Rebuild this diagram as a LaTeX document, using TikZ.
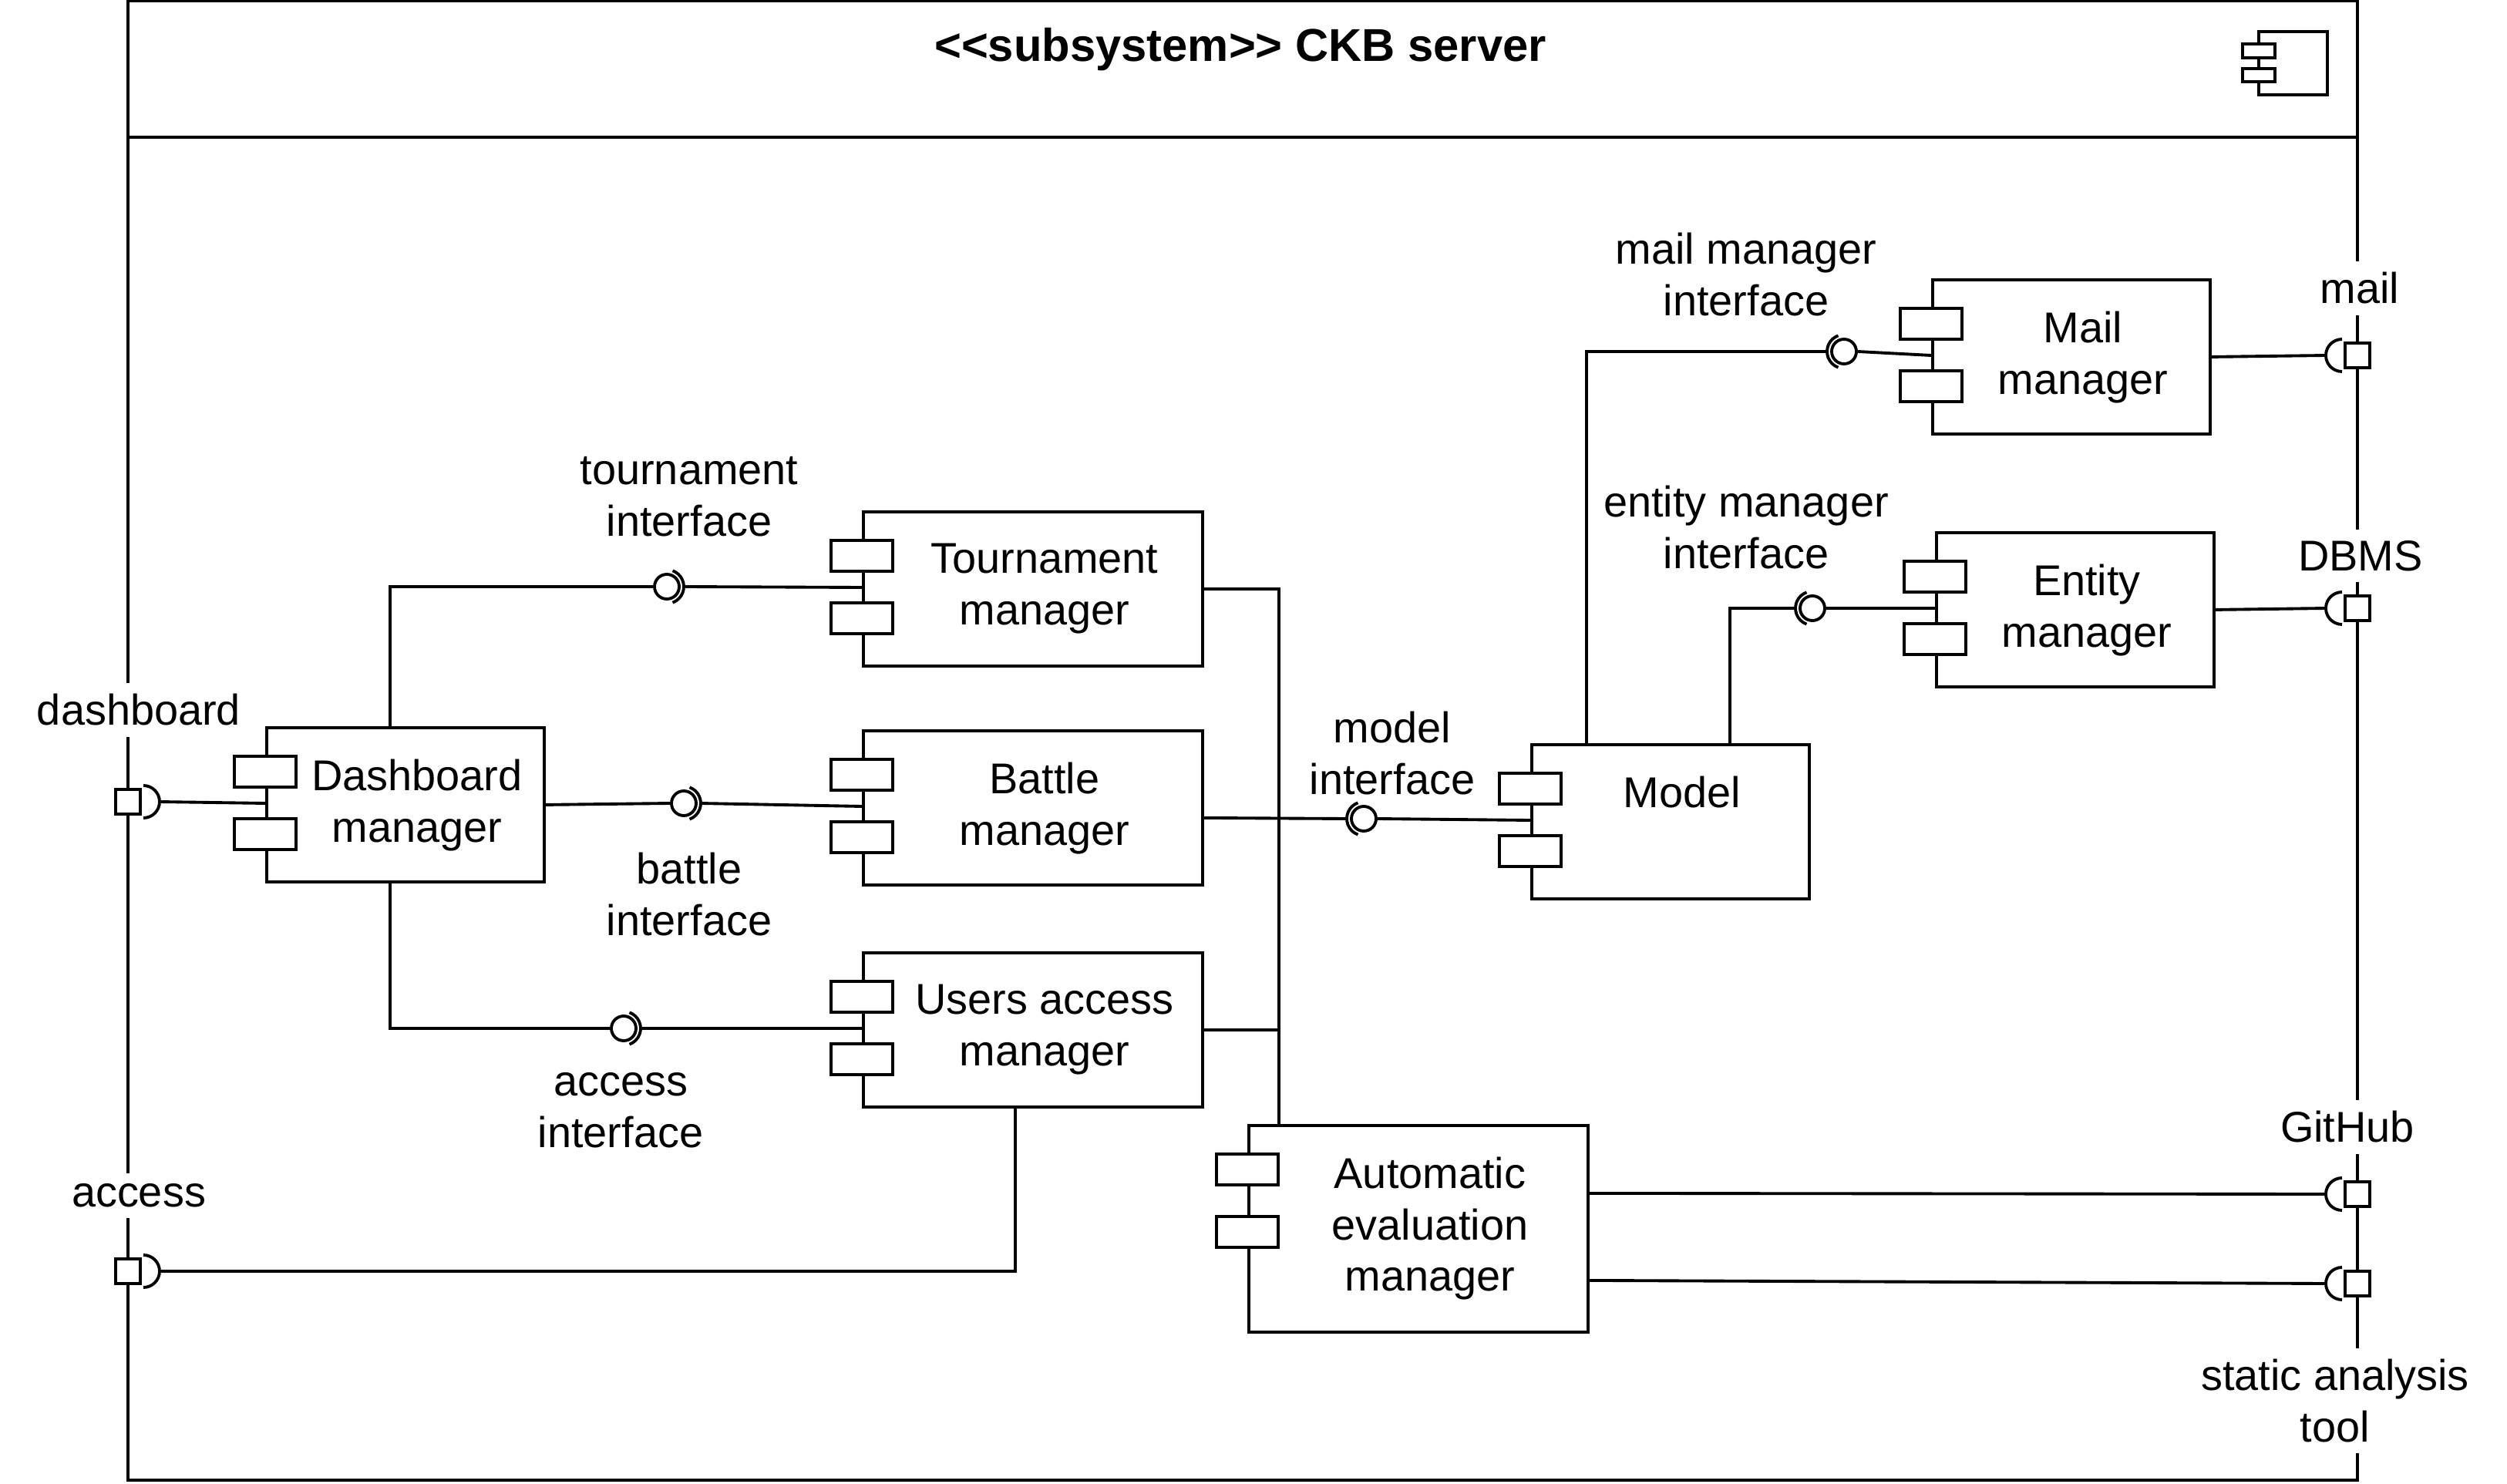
\documentclass[tikz,border=0pt]{standalone}
\usepackage{fontspec}
\setmainfont{Liberation Sans}
\newfontfamily\titlefont{Liberation Sans}

\begin{document}
\begin{tikzpicture}[line width=1.1pt,font=\fontsize{15.9pt}{19pt}\selectfont,
  comp/.style={draw,anchor=north west,inner sep=0,minimum height=2cm},
  ctext/.style={anchor=north,align=center,inner sep=0,yshift=-0.41cm,xshift=0.15cm},
  ball/.style={draw,circle,inner sep=0,minimum size=0.32cm},
  port/.style={draw,fill=white,inner sep=0,minimum size=0.32cm},
  plabel/.style={fill=white,inner sep=4pt,align=center},
  ilabel/.style={align=center,inner sep=0}]
  \useasboundingbox (0,0) rectangle (32.52,19.24);
  % subsystem frame
  \draw (1.66,0.04) rectangle (30.58,19.23);
  \draw (1.66,17.46) -- (30.58,17.46);
  \node[font={\titlefont\bfseries\fontsize{17pt}{20pt}\selectfont}] (title) at (16.09,18.60) {<<subsystem>> CKB server};
  \draw (29.30,18.01) rectangle (30.19,18.83);
  \draw[fill=white] (29.09,18.49) rectangle (29.51,18.67);
  \draw[fill=white] (29.09,18.18) rectangle (29.51,18.35);

  % components
  \node[comp,minimum width=3.6cm,label={[ctext]north:Dashboard\\manager}] (dash) at (3.44,9.82) {};
  \node[comp,minimum width=4.4cm,label={[ctext]north:Tournament\\manager}] (tour) at (11.18,12.62) {};
  \node[comp,minimum width=4.4cm,label={[ctext]north:Battle\\manager}] (batt) at (11.18,9.78) {};
  \node[comp,minimum width=4.4cm,label={[ctext]north:Users access\\manager}] (user) at (11.18,6.90) {};
  \node[comp,minimum width=4.4cm,minimum height=2.68cm,label={[ctext]north:Automatic\\evaluation\\manager}] (auto) at (16.18,4.66) {};
  \node[comp,minimum width=3.6cm,label={[ctext]north:Model}] (model) at (19.85,9.60) {};
  \node[comp,minimum width=3.6cm,label={[ctext]north:Mail\\manager}] (mail) at (25.05,15.63) {};
  \node[comp,minimum width=3.6cm,label={[ctext]north:Entity\\manager}] (ent) at (25.10,12.35) {};
  \foreach \nm in {dash,tour,batt,user,auto,model,mail,ent} {
    \draw[fill=white] ([shift={(-0.4,-0.39)}]\nm.north west) rectangle ++(0.8,-0.4);
    \draw[fill=white] ([shift={(-0.4,-1.2)}]\nm.north west) rectangle ++(0.8,-0.4);
    \coordinate (\nm-in) at ([yshift=-1cm]\nm.north west);
  }

  % interfaces
  \node[ball] (tourI) at (8.65,11.63) {};
  \node[ball] (battI) at (8.87,8.82) {};
  \node[ball] (userI) at (8.09,5.90) {};
  \node[ball] (modelI) at (17.69,8.62) {};
  \node[ball] (mailI) at (23.92,14.68) {};
  \node[ball] (entI) at (23.51,11.35) {};
  \foreach \i in {tourI,battI,userI} {
    \draw ([shift={(70:0.22)}]\i.center) arc[start angle=70,end angle=-70,radius=0.22];
    \coordinate (\i-s) at ([xshift=0.22cm]\i.center);
  }
  \foreach \i in {modelI,mailI,entI} {
    \draw ([shift={(110:0.22)}]\i.center) arc[start angle=110,end angle=250,radius=0.22];
    \coordinate (\i-s) at ([xshift=-0.22cm]\i.center);
  }
  \node[ilabel] (tourL) at (8.94,12.80) {tournament\\interface};
  \node[ilabel] (battL) at (8.94,7.64) {battle\\interface};
  \node[ilabel] (userL) at (8.05,4.84) {access\\interface};
  \node[ilabel] (modelL) at (18.06,9.47) {model\\interface};
  \node[ilabel] (mailIL) at (22.65,15.68) {mail manager\\interface};
  \node[ilabel] (entL) at (22.65,12.40) {entity manager\\interface};

  % ports
  \node[port] (dashP) at (1.66,8.84) {};
  \node[port] (accP) at (1.66,2.75) {};
  \node[port] (mailP) at (30.58,14.63) {};
  \node[port] (dbmsP) at (30.58,11.35) {};
  \node[port] (gitP) at (30.58,3.75) {};
  \node[port] (saP) at (30.58,2.59) {};
  \foreach \p in {dashP,accP} {
    \draw ([shift={(0.2,0.21)}]\p.center) arc[start angle=90,end angle=-90,radius=0.21];
    \coordinate (\p-s) at ([xshift=0.41cm]\p.center);
  }
  \foreach \p in {mailP,dbmsP,gitP,saP} {
    \draw ([shift={(-0.2,0.21)}]\p.center) arc[start angle=90,end angle=270,radius=0.21];
    \coordinate (\p-s) at ([xshift=-0.41cm]\p.center);
  }
  \node[plabel] (dashL) at (1.80,10.03) {dashboard};
  \node[plabel] (accL) at (1.80,3.73) {access};
  \node[plabel] (mailL) at (30.61,15.50) {mail};
  \node[plabel] (dbmsL) at (30.62,12.03) {DBMS};
  \node[plabel] (gitL) at (30.45,4.62) {GitHub};
  \node[plabel] (saL) at (30.29,1.07) {static analysis\\tool};

  % connectors
  \draw ([xshift=1.62cm]dash.north west) |- (tourI.west);
  \draw (dash.east) -- (battI.west);
  \draw ([xshift=1.62cm]dash.south west) |- (userI.west);
  \draw (tourI-s) -- (tour-in);
  \draw (battI-s) -- (batt-in);
  \draw (userI-s) -- (user-in);
  \draw (dashP-s) -- (dash-in);
  \draw (accP-s) -| ([xshift=1.99cm]user.south west);
  \coordinate (bus) at ([xshift=0.41cm]auto.north west);
  \draw (tour.east) -| (bus);
  \draw (user.east) -- (user.east -| bus);
  \draw ([yshift=-0.13cm]batt.east) -- (modelI-s);
  \draw (modelI.east) -- (model-in);
  \draw ([xshift=0.73cm]model.north west) |- (mailI-s);
  \draw ([xshift=2.59cm]model.north west) |- (entI-s);
  \draw (mailI.east) -- (mail-in);
  \draw (entI.east) -- (ent-in);
  \draw (mail.east) -- (mailP-s);
  \draw (ent.east) -- (dbmsP-s);
  \draw ([yshift=0.46cm]auto.east) -- (gitP-s);
  \draw ([yshift=-0.67cm]auto.east) -- (saP-s);
\end{tikzpicture}
\end{document}
